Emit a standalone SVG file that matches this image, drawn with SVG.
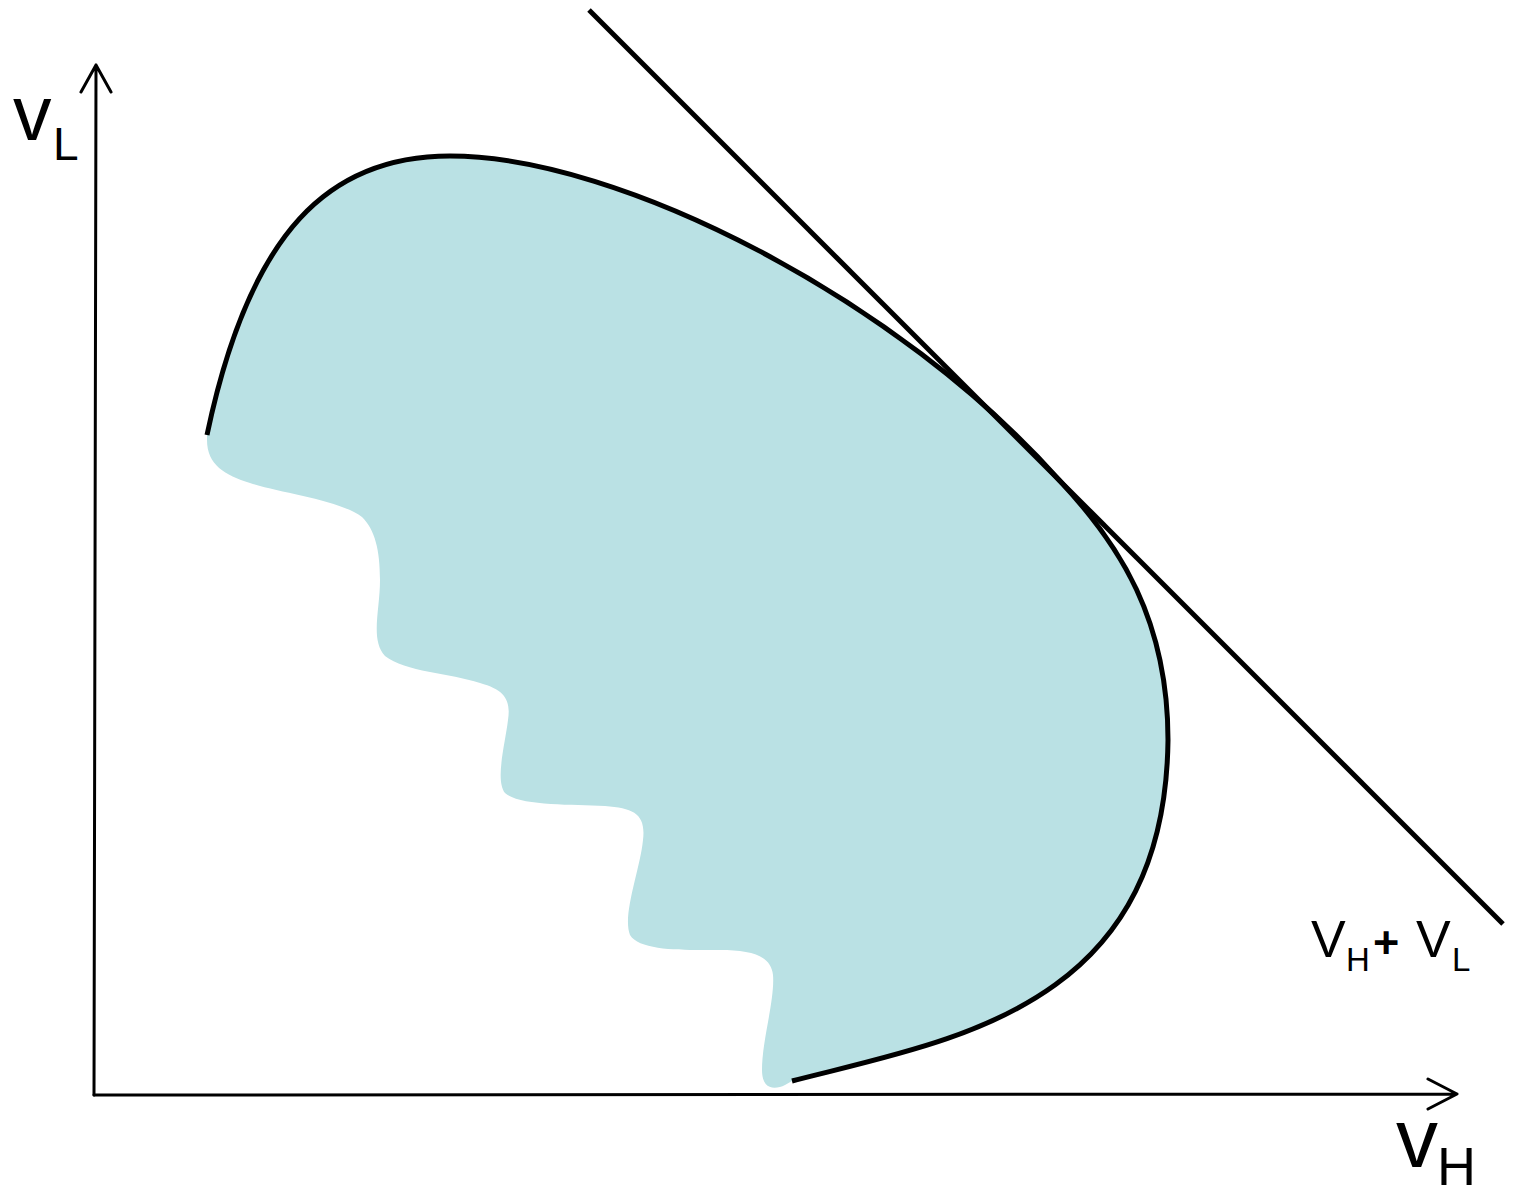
<svg xmlns="http://www.w3.org/2000/svg" width="1513" height="1189" viewBox="0 0 1513 1189">
<style>
.ax{fill:none;stroke:#000;stroke-width:3;stroke-linecap:round;stroke-linejoin:round}
.t{font-family:"Liberation Sans",Arial,sans-serif;fill:#000}
</style>
<rect width="1513" height="1189" fill="#fff"/>
<g id="region">
<path fill="#BAE1E4" d="M207,435 C250,230 330,156 450,156 C620,156 900,300 1060,481 C1120,545 1168,620 1168,740 C1165,1010 950,1040 792,1081 L785,1085 C775,1090 762,1090 762,1070 C762,1040 775,1000 773,975 C771,955 750,950 720,950 C690,950 640,952 630,935 C622,915 640,870 643,840 C646,815 635,808 605,806 C570,804 520,806 505,793 C495,780 505,745 508,720 C511,700 505,690 480,683 C450,673 405,672 385,656 C370,640 380,610 380,580 C380,550 375,530 362,517 C340,500 280,493 250,483 C225,475 207,465 207,440 Z"/>
<path fill="none" stroke="#000" stroke-width="5" d="M207,435 C250,230 330,156 450,156 C620,156 900,300 1060,481 C1120,545 1168,620 1168,740 C1165,1010 950,1040 792,1081"/>
</g>
<g id="connectors">
<path class="ax" d="M94,1095 L96,65 M81,92 L96,65 L111,92"/>
<path class="ax" d="M94,1095 L1457,1094 M1428,1079 L1457,1094 L1428,1109"/>
<line x1="589" y1="10" x2="1503" y2="924" stroke="#000" stroke-width="5"/>
</g>
<g id="label-vl">
<text class="t" x="13" y="140" font-size="77">v</text>
<text class="t" x="53" y="160" font-size="46">L</text>
</g>
<g id="label-vh">
<text class="t" x="1396" y="1167" font-size="84">v</text>
<text class="t" x="1437" y="1185" font-size="54">H</text>
</g>
<g id="label-sum">
<text class="t" x="1311" y="957" font-size="52">V</text>
<text class="t" x="1346" y="971" font-size="33">H</text>
<text class="t" x="1373" y="958" font-size="45" font-weight="bold">+</text>
<text class="t" x="1416" y="957" font-size="52">V</text>
<text class="t" x="1452" y="971" font-size="33">L</text>
</g>
</svg>
